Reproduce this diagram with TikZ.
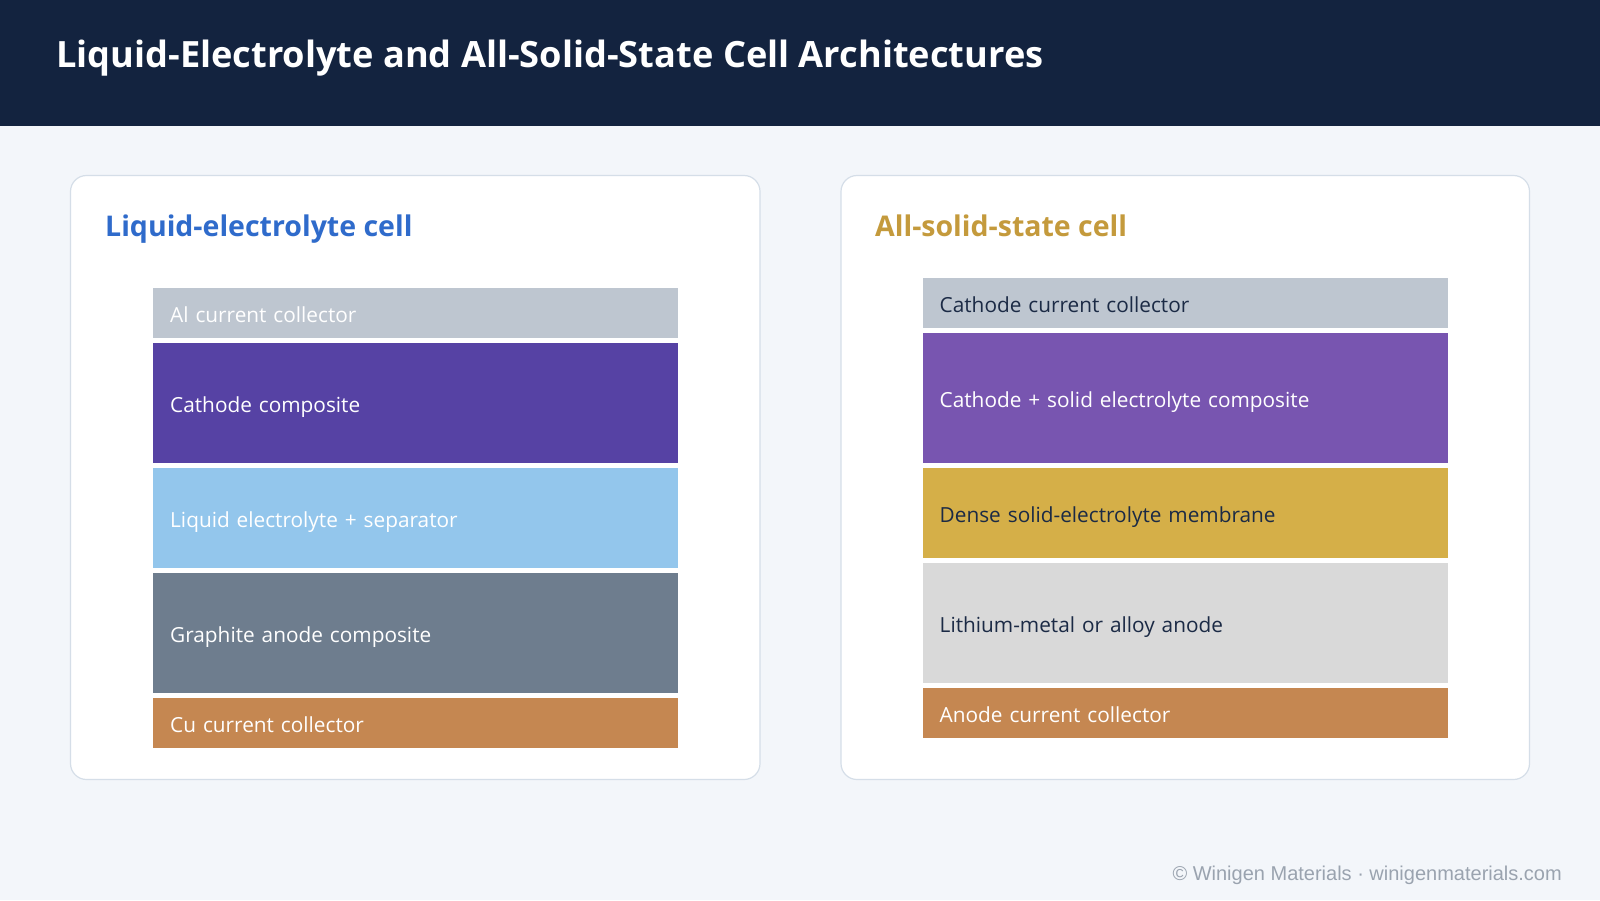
\documentclass[tikz,border=0pt]{standalone}
\usepackage{fontspec}
\setmainfont{Open Sans}
\newfontfamily\footfont{Liberation Sans}
\definecolor{bgc}{HTML}{F3F6FA}
\definecolor{hdr}{HTML}{13233F}
\definecolor{pborder}{HTML}{D5DEE8}
\definecolor{bluet}{HTML}{2F6BCB}
\definecolor{goldt}{HTML}{C49A3C}
\definecolor{collg}{HTML}{BEC6D0}
\definecolor{cathL}{HTML}{5642A4}
\definecolor{elecL}{HTML}{93C6EC}
\definecolor{graph}{HTML}{6E7D8E}
\definecolor{copper}{HTML}{C58751}
\definecolor{cathS}{HTML}{7855B0}
\definecolor{memb}{HTML}{D5AF48}
\definecolor{limet}{HTML}{D9D9D9}
\definecolor{darkt}{HTML}{1B2A45}
\definecolor{footc}{HTML}{9AA3AF}
\tikzset{
  panelbox/.style={draw=pborder, fill=white, line width=1.2pt, rounded corners=16pt},
  layer/.style={anchor=north west, minimum width=525pt, text width=491pt, inner xsep=17pt, inner ysep=0pt, align=left, text height=19pt, text depth=0pt, font=\fontsize{20.8}{24}\selectfont},
  ptitle/.style={anchor=base west, font=\bfseries\fontsize{28.5}{33}\selectfont, inner sep=0pt},
}
\begin{document}
\begin{tikzpicture}[x=1pt,y=-1pt]
\useasboundingbox (0,0) rectangle (1600,900);
\fill[bgc] (0,0) rectangle (1600,900);
\fill[hdr] (0,0) rectangle (1600,126);
\node[anchor=base west, inner sep=0pt, text=white, font=\bfseries\fontsize{36.2}{42}\selectfont] (title) at (56,67) {Liquid-Electrolyte and All-Solid-State Cell Architectures};

% left panel
\draw[panelbox] (70.5,175.5) rectangle (760,779.5);
\node[ptitle, text=bluet] (ltitle) at (105,236) {Liquid-electrolyte cell};
\node[layer, fill=collg, text=white, minimum height=50pt] (al) at (153,288) {Al current collector};
\node[layer, fill=cathL, text=white, minimum height=120pt] (cathl) at (153,343) {Cathode composite};
\node[layer, fill=elecL, text=white, minimum height=100pt] (elec) at (153,468) {Liquid electrolyte + separator};
\node[layer, fill=graph, text=white, minimum height=120pt] (gra) at (153,573) {Graphite anode composite};
\node[layer, fill=copper, text=white, minimum height=50pt] (cu) at (153,698) {Cu current collector};

% right panel
\draw[panelbox] (841,175.5) rectangle (1529.5,779.5);
\node[ptitle, text=goldt] (rtitle) at (875,236) {All-solid-state cell};
\node[layer, fill=collg, text=darkt, minimum height=50pt] (ccc) at (922.5,278) {Cathode current collector};
\node[layer, fill=cathS, text=white, minimum height=130pt] (cse) at (922.5,333) {Cathode + solid electrolyte composite};
\node[layer, fill=memb, text=darkt, minimum height=90pt] (mem) at (922.5,468) {Dense solid-electrolyte membrane};
\node[layer, fill=limet, text=darkt, minimum height=120pt] (li) at (922.5,563) {Lithium-metal or alloy anode};
\node[layer, fill=copper, text=white, minimum height=50pt] (acc) at (922.5,688) {Anode current collector};

\node[anchor=base east, inner sep=0pt, text=footc, font=\footfont\fontsize{20}{24}\selectfont] (foot) at (1562,880) {© Winigen Materials · winigenmaterials.com};
\end{tikzpicture}
\end{document}
